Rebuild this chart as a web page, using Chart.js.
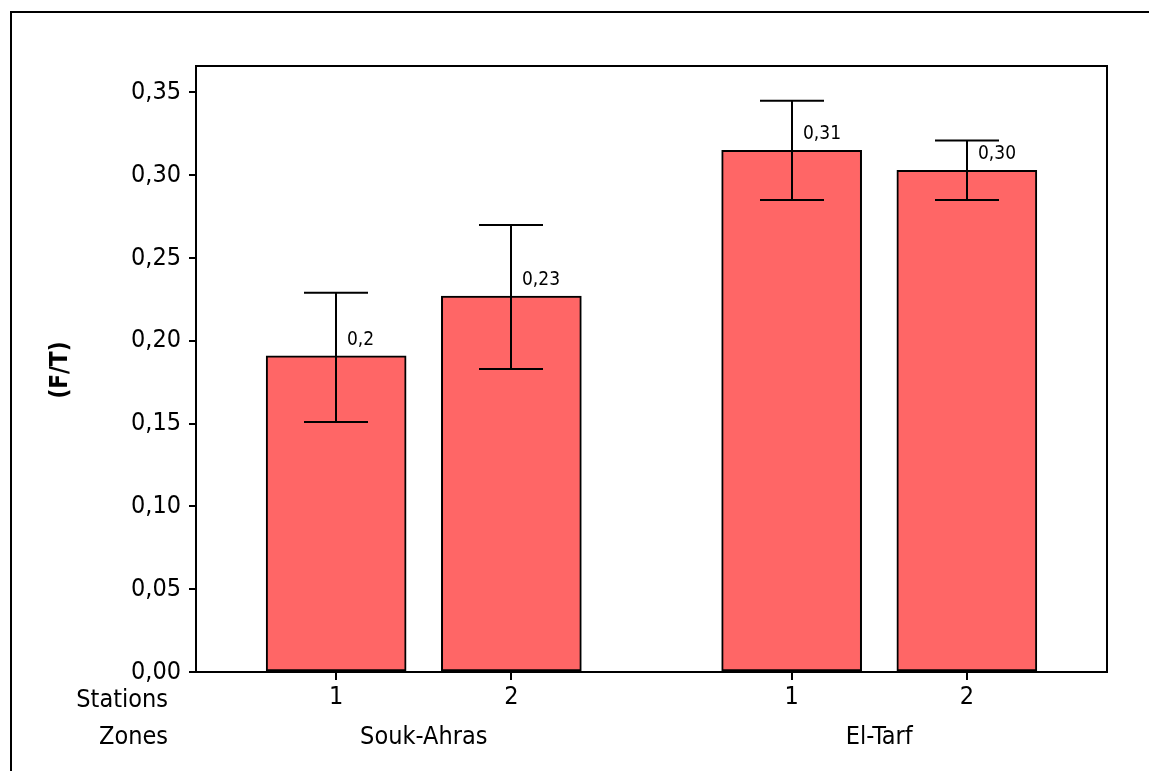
<!DOCTYPE html>
<html>
<head>
<meta charset="utf-8">
<script src="https://cdn.jsdelivr.net/npm/chart.js@4"></script>
<style>
  html, body { margin: 0; padding: 0; background: #fff; }
  #wrap { width: 1149px; height: 771px; position: relative; }
</style>
</head>
<body>
<div id="wrap"><canvas id="myChart" width="1149" height="771"></canvas></div>
<script>
// data
var stations = ['1', '2', '1', '2'];
var zones = ['Souk-Ahras', 'El-Tarf'];
var stationZone = [0, 0, 1, 1];
var means = [0.191, 0.227, 0.315, 0.303];
var errLow = [0.151, 0.183, 0.285, 0.285];
var errHigh = [0.229, 0.270, 0.345, 0.321];
var valueLabels = ['0,2', '0,23', '0,31', '0,30'];
var yTicks = [0, 0.05, 0.10, 0.15, 0.20, 0.25, 0.30, 0.35];

var FONT = "'DejaVu Sans Condensed', 'DejaVu Sans', sans-serif";
var groupGap = 0.6;

// x position of each bar: one unit per station, a bit extra between zones
var xPos = stations.map(function(s, i) { return i + 1 + stationZone[i] * groupGap; });

var extras = {
  id: 'extras',
  afterDatasetsDraw: function(chart) {
    var ctx = chart.ctx;
    var xs = chart.scales.x, ys = chart.scales.y;
    var area = chart.chartArea;
    ctx.save();
    ctx.strokeStyle = '#000';
    ctx.lineWidth = 2;
    // error bars
    means.forEach(function(m, i) {
      var x = Math.round(xs.getPixelForValue(xPos[i]));
      var yl = ys.getPixelForValue(errLow[i]);
      var yh = ys.getPixelForValue(errHigh[i]);
      ctx.beginPath();
      ctx.moveTo(x, yl); ctx.lineTo(x, yh);
      ctx.moveTo(x - 32, yl); ctx.lineTo(x + 32, yl);
      ctx.moveTo(x - 32, yh); ctx.lineTo(x + 32, yh);
      ctx.stroke();
      // value label
      ctx.fillStyle = '#000';
      ctx.font = '19px ' + FONT;
      ctx.textAlign = 'left';
      ctx.textBaseline = 'alphabetic';
      ctx.fillText(valueLabels[i], x + 11, ys.getPixelForValue(m) - 11);
    });
    // plot frame
    ctx.strokeRect(area.left, area.top, area.right - area.left, area.bottom - area.top);
    ctx.restore();
  },
  afterDraw: function(chart) {
    var ctx = chart.ctx;
    var xs = chart.scales.x;
    ctx.save();
    ctx.fillStyle = '#000';
    ctx.font = '25px ' + FONT;
    ctx.textBaseline = 'middle';
    ctx.textAlign = 'right';
    ctx.fillText('Stations', 168, 700);
    ctx.fillText('Zones', 168, 737);
    ctx.textAlign = 'center';
    zones.forEach(function(z, zi) {
      var ps = xPos.filter(function(p, i) { return stationZone[i] === zi; });
      var mid = ps.reduce(function(a, b) { return a + b; }, 0) / ps.length;
      ctx.fillText(z, xs.getPixelForValue(mid), 737);
    });
    // y axis title
    ctx.translate(61, 370);
    ctx.rotate(-Math.PI / 2);
    ctx.font = 'bold 24px ' + FONT;
    ctx.fillText('(F/T)', 0, 0);
    ctx.restore();
    // outer frame
    ctx.save();
    ctx.strokeStyle = '#000';
    ctx.lineWidth = 2;
    ctx.strokeRect(11, 12, 1300, 900);
    ctx.restore();
  }
};

var ctx = document.getElementById('myChart').getContext('2d');
var chart = new Chart(ctx, {
  type: 'bar',
  data: {
    datasets: [{
      data: means.map(function(m, i) { return { x: xPos[i], y: m }; }),
      backgroundColor: '#ff6666',
      borderColor: '#000',
      borderWidth: 2,
      borderSkipped: false,
      barThickness: 140
    }]
  },
  options: {
    responsive: false,
    animation: false,
    layout: { padding: { left: 0, top: 66, right: 42, bottom: 59 } },
    plugins: { legend: { display: false }, tooltip: { enabled: false } },
    scales: {
      x: {
        type: 'linear',
        min: 0.2,
        max: 5.4,
        offset: false,
        afterBuildTicks: function(scale) {
          scale.ticks = xPos.map(function(v) { return { value: v }; });
        },
        afterFit: function(scale) { scale.height = 40; },
        ticks: {
          color: '#000',
          font: { family: FONT, size: 25 },
          padding: 2,
          autoSkip: false,
          maxRotation: 0,
          callback: function(v, i) { return stations[i]; }
        },
        grid: { offset: false, drawOnChartArea: false, drawTicks: true, tickLength: 8, color: '#000', lineWidth: 2 },
        border: { display: true, color: '#000', width: 2 }
      },
      y: {
        min: 0,
        max: 0.366,
        afterBuildTicks: function(scale) {
          scale.ticks = yTicks.map(function(v) { return { value: v }; });
        },
        afterFit: function(scale) { scale.width = 196; },
        ticks: {
          color: '#000',
          font: { family: FONT, size: 25 },
          padding: 8,
          callback: function(v) { return v.toFixed(2).replace('.', ','); }
        },
        grid: { drawOnChartArea: false, drawTicks: true, tickLength: 7, color: '#000', lineWidth: 2 },
        border: { display: true, color: '#000', width: 2 }
      }
    }
  },
  plugins: [extras]
});
</script>
</body>
</html>
